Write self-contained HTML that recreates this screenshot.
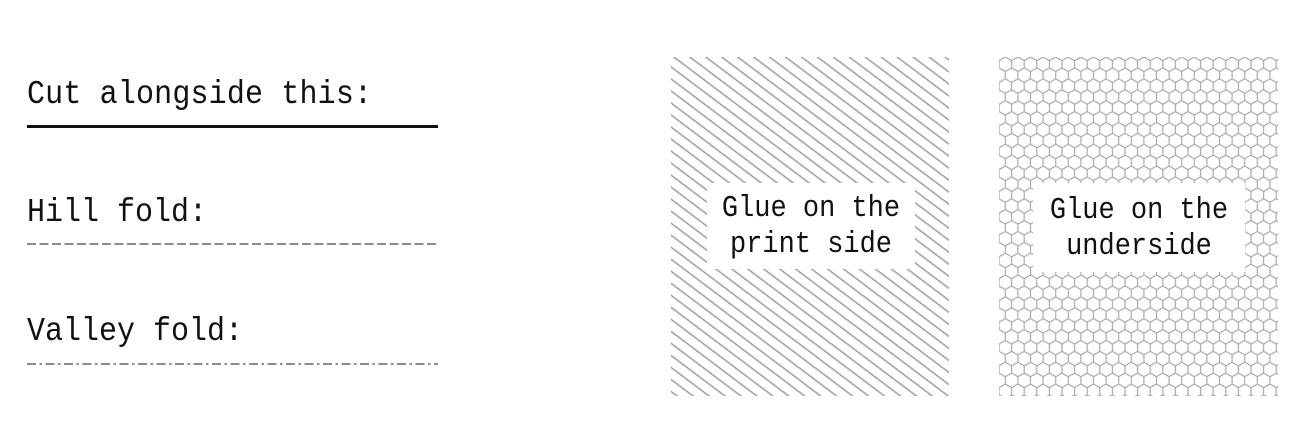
<!DOCTYPE html>
<html><head><meta charset="utf-8"><style>
html,body{margin:0;padding:0;background:#fff;width:1297px;height:446px;overflow:hidden}
</style></head><body>
<svg width="1297" height="446" xmlns="http://www.w3.org/2000/svg" style="display:block">
<defs>
<pattern id="diag" patternUnits="userSpaceOnUse" width="20" height="9.6" patternTransform="rotate(37)">
<line x1="0" y1="4.8" x2="20" y2="4.8" stroke="#9a9a9a" stroke-width="1.5"/>
</pattern>
<pattern id="hex" patternUnits="userSpaceOnUse" width="12.6" height="21.8" x="999" y="57">
<path d="M6.3 0L12.6 3.63M6.3 0L0 3.63M0 3.63L0 10.9M12.6 3.63L12.6 10.9M0 10.9L6.3 14.5M12.6 10.9L6.3 14.5M6.3 14.5L6.3 21.8" stroke="#a8a8a8" stroke-width="1.2" fill="none"/>
</pattern>
</defs>
<g font-family="Liberation Mono, monospace" fill="#111">
<text x="27" y="103" font-size="30" transform="translate(0,103) scale(1,1.12) translate(0,-103)" textLength="345">Cut alongside this:</text>
<line x1="27" y1="126.5" x2="438" y2="126.5" stroke="#111" stroke-width="3"/>
<text x="27" y="221" font-size="30" transform="translate(0,221) scale(1,1.12) translate(0,-221)">Hill fold:</text>
<line x1="27" y1="244" x2="438" y2="244" stroke="#666" stroke-width="1.6" stroke-dasharray="9,3.5"/>
<text x="27" y="340" font-size="30" transform="translate(0,340) scale(1,1.12) translate(0,-340)">Valley fold:</text>
<line x1="27" y1="364" x2="438" y2="364" stroke="#666" stroke-width="1.6" stroke-dasharray="9,3.5,2.5,3.5"/>
</g>
<rect x="671" y="57" width="278" height="339" fill="url(#diag)"/>
<rect x="707" y="183" width="208" height="86" fill="#fff"/>
<rect x="999" y="57" width="279" height="339" fill="url(#hex)"/>
<rect x="1033" y="183" width="212" height="89" fill="#fff"/>
<g font-family="Liberation Mono, monospace" font-size="27" fill="#111" text-anchor="middle">
<text x="811" y="216" transform="translate(0,216) scale(1,1.12) translate(0,-216)">Glue on the</text>
<text x="811" y="252" transform="translate(0,252) scale(1,1.12) translate(0,-252)">print side</text>
<text x="1139" y="218" transform="translate(0,218) scale(1,1.12) translate(0,-218)">Glue on the</text>
<text x="1139" y="254" transform="translate(0,254) scale(1,1.12) translate(0,-254)">underside</text>
</g>
</svg>
</body></html>
